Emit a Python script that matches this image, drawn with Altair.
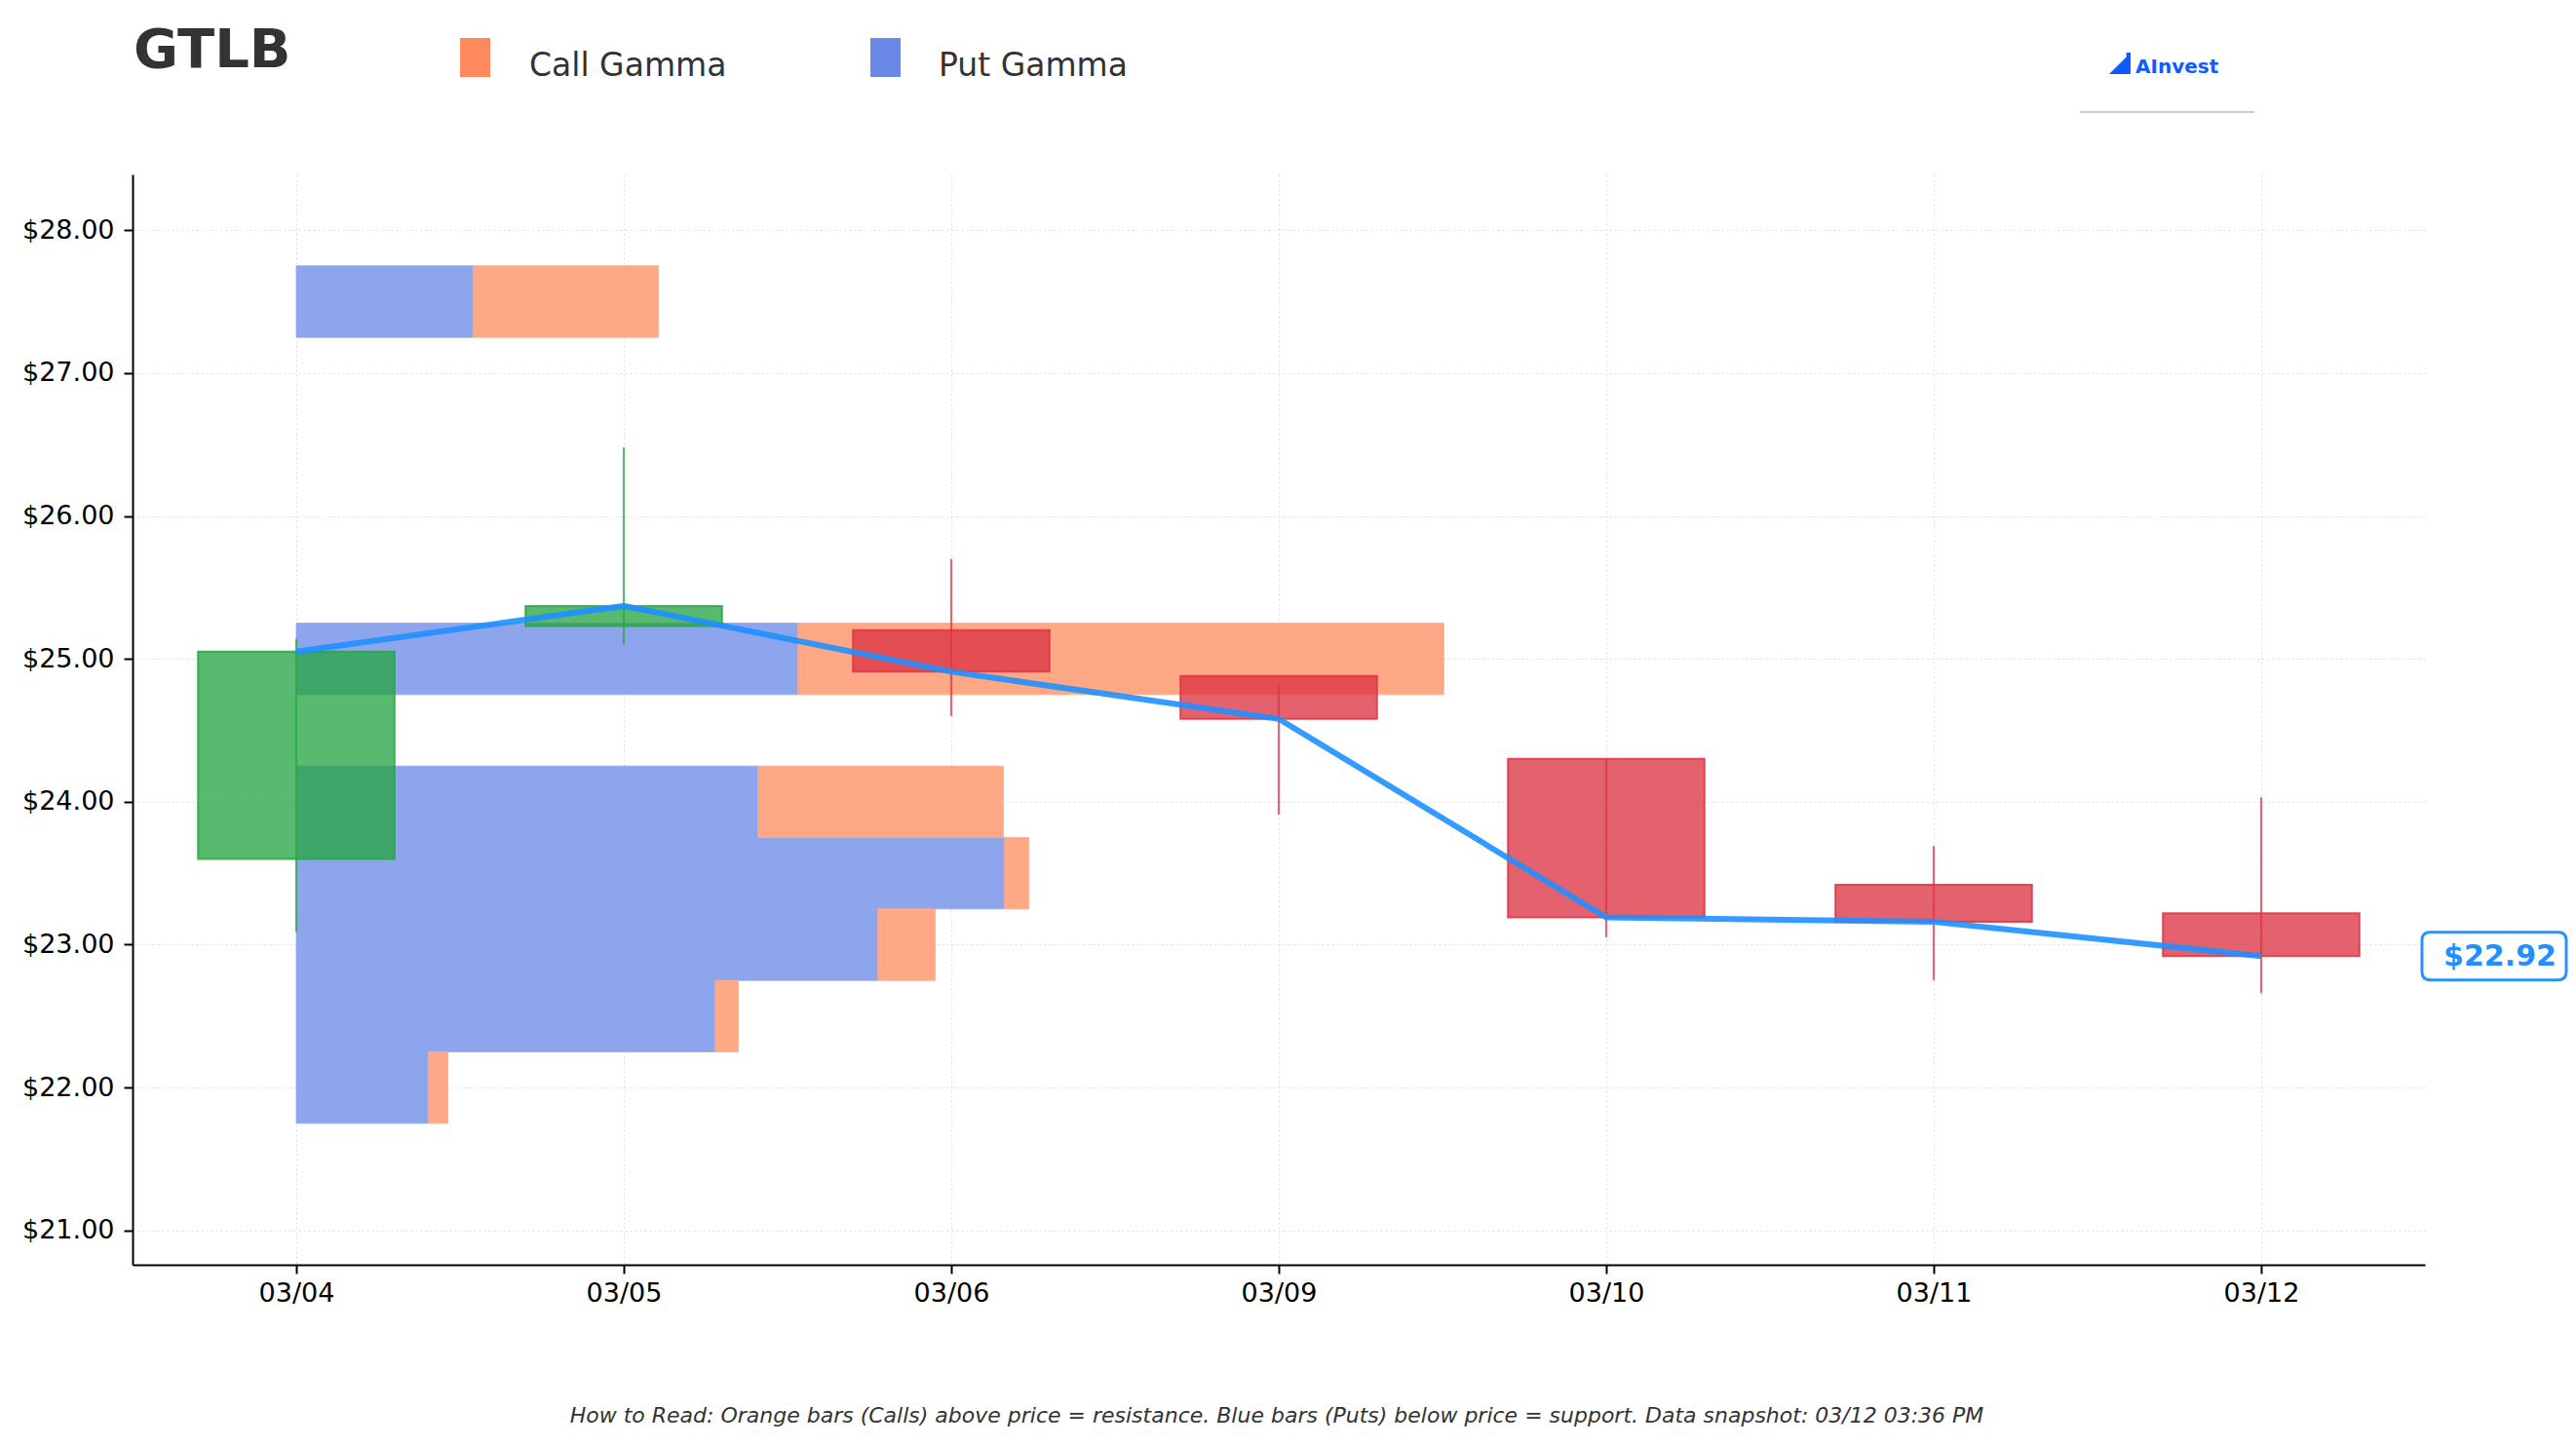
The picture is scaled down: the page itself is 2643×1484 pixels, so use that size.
import altair as alt
import pandas as pd

# ---------------- data ----------------
ticker = "GTLB"
dates = ["03/04", "03/05", "03/06", "03/09", "03/10", "03/11", "03/12"]
opens = [23.60, 25.23, 25.20, 24.88, 24.30, 23.42, 23.22]
highs = [25.14, 26.48, 25.70, 24.83, 24.30, 23.69, 24.03]
lows = [23.09, 25.10, 24.60, 23.91, 23.05, 22.75, 22.66]
closes = [25.05, 25.37, 24.91, 24.58, 23.19, 23.16, 22.92]

strikes = [27.5, 25.0, 24.0, 23.5, 23.0, 22.5, 22.0]
put_gamma = [0.540, 1.532, 1.410, 2.163, 1.776, 1.279, 0.403]
call_gamma = [0.566, 1.972, 0.749, 0.074, 0.175, 0.071, 0.060]

y_ticks = [21, 22, 23, 24, 25, 26, 27, 28]
legend_labels = ["Call Gamma", "Put Gamma"]
footer = ("How to Read: Orange bars (Calls) above price = resistance. "
          "Blue bars (Puts) below price = support. Data snapshot: 03/12 03:36 PM")
logo_text = "AInvest"

FONT = "DejaVu Sans"
W, H = 2352, 1119

candles = pd.DataFrame({
    "idx": list(range(len(dates))),
    "date": dates,
    "open": opens,
    "high": highs,
    "low": lows,
    "close": closes,
})
candles["dir"] = ["up" if c >= o else "down" for o, c in zip(opens, closes)]

gamma = pd.DataFrame({"strike": strikes, "put": put_gamma, "call": call_gamma})

label_expr = "[" + ",".join('"%s"' % d for d in dates) + "][datum.value]"

xscale = alt.Scale(domain=[-0.5, 6.5], nice=False, zero=False)
yscale = alt.Scale(domain=[20.76, 28.39], nice=False, zero=False)
xaxis = alt.Axis(values=list(range(len(dates))), labelExpr=label_expr, title=None,
                 labelFontSize=27, labelPadding=7, tickSize=9, grid=True)
yaxis = alt.Axis(values=y_ticks, format="$.2f", title=None, labelFontSize=27,
                 labelPadding=10, tickSize=9, grid=True)

base_g = alt.Chart(gamma).transform_calculate(
    y_lo="datum.strike - 0.25",
    y_hi="datum.strike + 0.25",
    zero="0",
    put_end="datum.put",
    call_end="datum.put + datum.call",
)

PUT_C, CALL_C = "#8CA5EC", "#FFA886"
put_bars = base_g.mark_rect(color=PUT_C, stroke=PUT_C, strokeWidth=0.8).encode(
    x=alt.X("zero:Q", scale=xscale, axis=xaxis),
    x2="put_end:Q",
    y=alt.Y("y_lo:Q", scale=yscale, axis=yaxis),
    y2="y_hi:Q",
)
call_bars = base_g.mark_rect(color=CALL_C, stroke=CALL_C, strokeWidth=0.8).encode(
    x=alt.X("put_end:Q", scale=xscale, axis=xaxis),
    x2="call_end:Q",
    y=alt.Y("y_lo:Q", scale=yscale, axis=yaxis),
    y2="y_hi:Q",
)

cscale = alt.Scale(domain=["up", "down"], range=["#28a745", "#dc3545"])

wicks = alt.Chart(candles).mark_rule(strokeWidth=2.2, opacity=0.75).encode(
    x=alt.X("idx:Q", scale=xscale, axis=xaxis),
    y=alt.Y("low:Q", scale=yscale, axis=yaxis),
    y2="high:Q",
    color=alt.Color("dir:N", scale=cscale, legend=None),
)

bodies = alt.Chart(candles).transform_calculate(
    x_lo="datum.idx - 0.3", x_hi="datum.idx + 0.3"
).mark_rect(fillOpacity=0.78, strokeOpacity=0.85, strokeWidth=2).encode(
    x=alt.X("x_lo:Q", scale=xscale, axis=xaxis),
    x2="x_hi:Q",
    y=alt.Y("open:Q", scale=yscale, axis=yaxis),
    y2="close:Q",
    fill=alt.Fill("dir:N", scale=cscale, legend=None),
    stroke=alt.Stroke("dir:N", scale=cscale, legend=None),
)

line = alt.Chart(candles).mark_line(color="#1E90FF", strokeWidth=6, opacity=0.9).encode(
    x=alt.X("idx:Q", scale=xscale, axis=xaxis),
    y=alt.Y("close:Q", scale=yscale, axis=yaxis),
)

last = pd.DataFrame({"close": [closes[-1]], "label": ["$%.2f" % closes[-1]]})
box_path = ("M -0.89 -0.331 L 0.89 -0.331 Q 1 -0.331 1 -0.221 L 1 0.221 "
            "Q 1 0.331 0.89 0.331 L -0.89 0.331 Q -1 0.331 -1 0.221 "
            "L -1 -0.221 Q -1 -0.331 -0.89 -0.331 Z")
price_box = alt.Chart(last).mark_point(
    shape=box_path, size=148 * 148, filled=True, fill="white",
    stroke="#2a93f5", strokeWidth=3, opacity=1
).encode(x=alt.value(W + 71), y=alt.Y("close:Q", scale=yscale, axis=yaxis))
price_text = alt.Chart(last).mark_text(
    font=FONT, fontSize=30, fontWeight="bold", color="#1E90FF",
    align="center", baseline="middle", dy=1
).encode(x=alt.value(W + 77), y=alt.Y("close:Q", scale=yscale, axis=yaxis), text="label:N")

# ---------- header / footer annotations ----------
one = pd.DataFrame({"t": [ticker]})
title = alt.Chart(one).mark_text(
    font=FONT, fontSize=56, fontWeight="bold", color="#333333",
    align="left", baseline="alphabetic"
).encode(x=alt.value(1), y=alt.value(-110), text="t:N")

leg_call_patch = alt.Chart(one).mark_rect(color="#FF8A5E").encode(
    x=alt.value(336), x2=alt.value(367), y=alt.value(-140), y2=alt.value(-100))
leg_put_patch = alt.Chart(one).mark_rect(color="#6A88E6").encode(
    x=alt.value(757), x2=alt.value(788), y=alt.value(-140), y2=alt.value(-100))
leg_call_text = alt.Chart(pd.DataFrame({"t": [legend_labels[0]]})).mark_text(
    font=FONT, fontSize=33, color="#333333", align="left", baseline="alphabetic"
).encode(x=alt.value(407), y=alt.value(-101), text="t:N")
leg_put_text = alt.Chart(pd.DataFrame({"t": [legend_labels[1]]})).mark_text(
    font=FONT, fontSize=33, color="#333333", align="left", baseline="alphabetic"
).encode(x=alt.value(827), y=alt.value(-101), text="t:N")

logo_icon = alt.Chart(one).mark_point(
    shape="M -1 1 L 0.6 -0.6 L 0.6 -1 L 1 -1 L 1 1 Z", size=22 * 22,
    filled=True, color="#0F5BFF", opacity=1
).encode(x=alt.value(2039), y=alt.value(-114))
logo = alt.Chart(pd.DataFrame({"t": [logo_text]})).mark_text(
    font=FONT, fontSize=20, fontWeight="bold", color="#0F5BFF",
    align="left", baseline="alphabetic"
).encode(x=alt.value(2055), y=alt.value(-104), text="t:N")
logo_rule = alt.Chart(one).mark_rule(color="#bbbbbb", strokeWidth=1.5).encode(
    x=alt.value(1998), x2=alt.value(2177), y=alt.value(-64))

foot = alt.Chart(pd.DataFrame({"t": [footer]})).mark_text(
    font=FONT, fontSize=22, fontStyle="italic", color="#333333",
    align="center", baseline="alphabetic"
).encode(x=alt.value(1174), y=alt.value(1281), text="t:N")

chart = alt.layer(
    put_bars, call_bars, wicks, bodies, line, price_box, price_text,
    title, leg_call_patch, leg_put_patch, leg_call_text, leg_put_text,
    logo_icon, logo, logo_rule, foot
).properties(
    width=W, height=H,
    autosize=alt.AutoSizeParams(type="none"),
    padding={"left": 136, "top": 179, "right": 2643 - 136 - W, "bottom": 1484 - 179 - H},
    background="white",
).configure_view(stroke=None).configure_axis(
    labelFont=FONT, labelColor="#000000", domainColor="#000000", domainWidth=2,
    tickColor="#000000", tickWidth=2, gridColor="#dddddd", gridDash=[2, 3],
    gridWidth=1,
)

chart.save("out.html", embed_options={"renderer": "svg", "actions": False})
